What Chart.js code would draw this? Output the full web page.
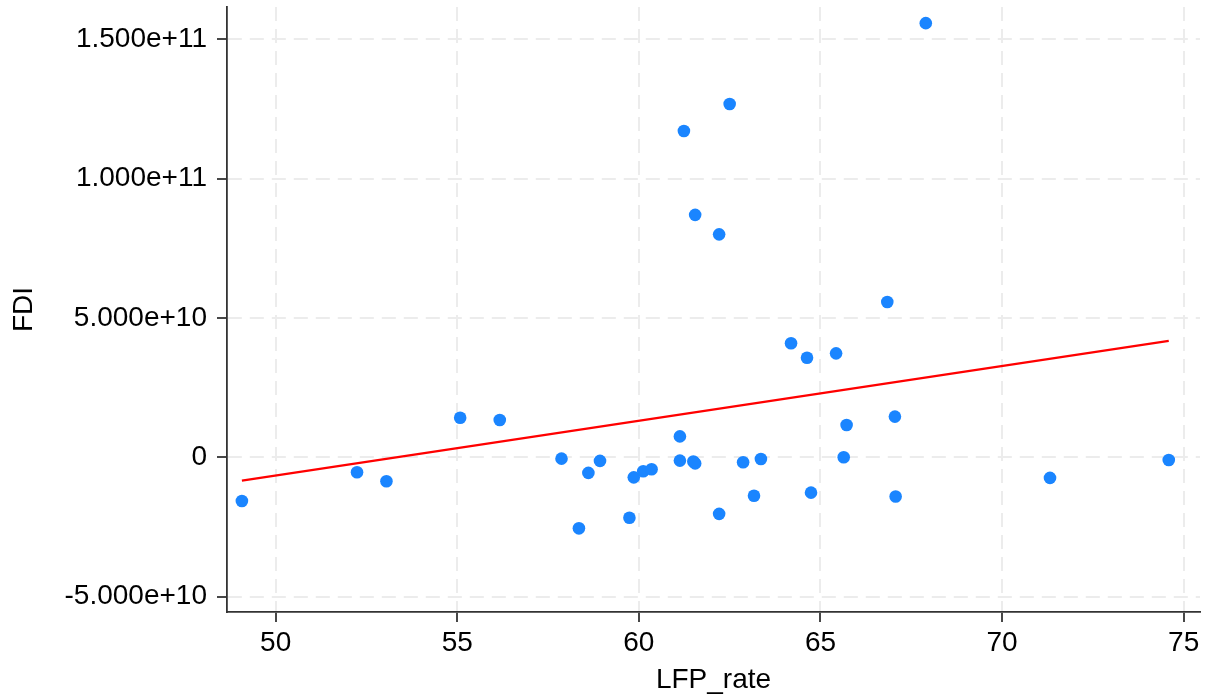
<!DOCTYPE html>
<html>
<head>
<meta charset="utf-8">
<title>FDI vs LFP_rate</title>
<script src="https://cdn.jsdelivr.net/npm/chart.js@4/dist/chart.umd.min.js"></script>
<style>
  html, body { margin: 0; padding: 0; background: #ffffff; }
  #wrap { width: 1208px; height: 698px; }
</style>
</head>
<body>
<div id="wrap"><canvas id="chart" width="1208" height="698"></canvas></div>
<script>
// Observations: labour force participation rate vs. foreign direct investment
const lfpRate = [49.07, 52.24, 53.05, 55.08, 56.17, 57.87, 58.61, 58.35, 58.93, 59.74,
                 59.86, 60.12, 60.35, 61.13, 61.13, 61.50, 61.55, 62.87, 63.17, 62.21,
                 63.36, 64.74, 65.64, 65.72, 67.05, 67.07, 71.32, 74.59, 67.90, 62.50,
                 61.24, 61.55, 62.21, 64.19, 64.63, 65.43, 66.84];
const fdi = [-1.57e10, -0.54e10, -0.86e10, 1.42e10, 1.34e10, -0.05e10, -0.56e10, -2.55e10, -0.13e10, -2.17e10,
             -0.72e10, -0.50e10, -0.43e10, 0.75e10, -0.12e10, -0.15e10, -0.22e10, -0.18e10, -1.38e10, -2.03e10,
             -0.06e10, -1.27e10, 0.00e10, 1.16e10, 1.46e10, -1.41e10, -0.74e10, -0.10e10, 15.58e10, 12.68e10,
             11.71e10, 8.70e10, 8.00e10, 4.09e10, 3.57e10, 3.73e10, 5.57e10];

// Linear fit line endpoints
const fitX = [49.07, 74.59];
const fitY = [-0.84e10, 4.18e10];

// Axis ticks
const xTickValues = [50, 55, 60, 65, 70, 75];
const yTickValues = [-5e10, 0, 5e10, 1e11, 1.5e11];
const yTickLabels = ['-5.000e+10', '0', '5.000e+10', '1.000e+11', '1.500e+11'];

const FONT = '"Liberation Sans", Arial, Helvetica, sans-serif';
const GRID = '#ececec';
const AXIS = '#333333';

const points = lfpRate.map((x, i) => ({ x: x, y: fdi[i] }));
const fit = fitX.map((x, i) => ({ x: x, y: fitY[i] }));

new Chart(document.getElementById('chart'), {
  type: 'scatter',
  data: {
    datasets: [
      {
        label: 'Fitted values',
        type: 'line',
        data: fit,
        borderColor: '#ff0000',
        borderWidth: 2.3,
        pointRadius: 0,
        fill: false,
        tension: 0,
        order: 0
      },
      {
        label: 'FDI',
        data: points,
        backgroundColor: '#1a85ff',
        borderColor: '#1a85ff',
        borderWidth: 0,
        pointRadius: 6.3,
        pointHoverRadius: 6.3,
        order: 1
      }
    ]
  },
  options: {
    responsive: false,
    animation: false,
    devicePixelRatio: 1,
    layout: { padding: { top: 7, right: 8, left: 0, bottom: 0 } },
    plugins: {
      legend: { display: false },
      tooltip: { enabled: false }
    },
    scales: {
      x: {
        type: 'linear',
        min: 48.66,
        max: 75.45,
        afterBuildTicks: (s) => { s.ticks = xTickValues.map(v => ({ value: v })); },
        afterFit: (s) => { s.height = 86; s.paddingLeft = 0; s.paddingRight = 0; },
        grid: {
          color: GRID,
          lineWidth: 2,
          drawTicks: true,
          tickLength: 10,
          tickColor: AXIS,
          tickWidth: 1.8,
          tickBorderDash: [0, 0]
        },
        border: { display: true, color: AXIS, width: 1.8, dash: [14, 8] },
        ticks: {
          color: '#000000',
          padding: 4,
          maxRotation: 0,
          font: { family: FONT, size: 28 },
          callback: (v) => String(v)
        },
        title: {
          display: true,
          text: 'LFP_rate',
          color: '#000000',
          font: { family: FONT, size: 28 },
          padding: { top: 0, bottom: 1 }
        }
      },
      y: {
        type: 'linear',
        min: -5.553e10,
        max: 1.616e11,
        afterBuildTicks: (s) => { s.ticks = yTickValues.map(v => ({ value: v })); },
        afterFit: (s) => { s.width = 227; s.paddingTop = 0; s.paddingBottom = 0; },
        grid: {
          color: GRID,
          lineWidth: 2,
          drawTicks: true,
          tickLength: 10,
          tickColor: AXIS,
          tickWidth: 1.8,
          tickBorderDash: [0, 0]
        },
        border: { display: true, color: AXIS, width: 1.8, dash: [14, 8] },
        ticks: {
          color: '#000000',
          padding: 10,
          font: { family: FONT, size: 28 },
          callback: (v) => {
            const i = yTickValues.indexOf(v);
            return i >= 0 ? yTickLabels[i] : '';
          }
        },
        title: {
          display: true,
          text: 'FDI',
          color: '#000000',
          font: { family: FONT, size: 28 },
          padding: { top: 7, bottom: 0 }
        }
      }
    }
  }
});
</script>
</body>
</html>
